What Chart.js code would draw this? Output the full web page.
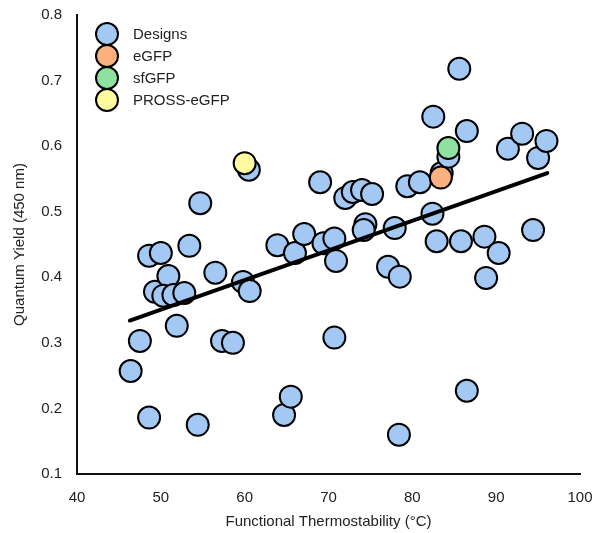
<!DOCTYPE html>
<html>
<head>
<meta charset="utf-8">
<script src="https://cdn.jsdelivr.net/npm/chart.js@4"></script>
<style>
html,body{margin:0;padding:0;background:#fff}
#wrap{width:594px;height:533px}
</style>
</head>
<body>
<div id="wrap"><canvas id="c" width="594" height="533"></canvas></div>
<script>
const designX=[46.4,47.5,48.6,48.6,50.0,49.3,50.9,50.3,51.5,52.8,51.9,53.4,54.4,54.7,56.5,57.3,58.6,59.8,60.6,60.5,
63.9,64.7,65.5,66.0,67.1,69.4,70.7,70.9,70.7,69.0,72.0,72.9,74.0,75.2,74.4,74.2,77.1,77.9,78.5,78.4,
79.4,80.9,82.4,82.9,82.5,83.5,84.3,85.6,85.8,86.5,86.5,88.6,88.8,90.3,91.4,93.1,94.4,95.0,96.0]
const designY=[0.257,0.303,0.186,0.433,0.437,0.378,0.402,0.372,0.373,0.376,0.326,0.448,0.175,0.513,0.407,0.303,0.300,0.393,0.379,0.564,
0.449,0.190,0.218,0.437,0.466,0.452,0.459,0.425,0.308,0.545,0.521,0.530,0.533,0.527,0.481,0.472,0.416,0.475,0.401,0.160,
0.539,0.545,0.497,0.455,0.645,0.559,0.584,0.718,0.455,0.623,0.227,0.462,0.399,0.437,0.596,0.619,0.472,0.582,0.608]
const egfpX=[83.4],egfpY=[0.552]
const sfgfpX=[84.3],sfgfpY=[0.597]
const prossX=[60.0],prossY=[0.574]
const fitX=[46.3,96.1],fitY=[0.334,0.559]

const xTicks=[40,50,60,70,80,90,100]
const yTicks=[0.1,0.2,0.3,0.4,0.5,0.6,0.7,0.8]

const pts=(xs,ys)=>xs.map((x,i)=>({x:x,y:ys[i]}))

Chart.defaults.font.family="'Liberation Sans', Arial, sans-serif"
Chart.defaults.font.size=15
Chart.defaults.color="#222"

function dot(label,data,color,order){
return {type:"scatter",label:label,data:data,order:order,
backgroundColor:color,borderColor:"#000",borderWidth:2,
pointRadius:11,pointHoverRadius:11,pointStyle:"circle"}
}

// legend drawn inside the plot, top-left, one row per marker dataset
const innerLegend={
id:"innerLegend",
afterDatasetsDraw(chart){
const ctx=chart.ctx,a=chart.chartArea
let row=0
chart.data.datasets.forEach(ds=>{
if(ds.type!=="scatter")return
const cx=a.left+30,cy=a.top+19+row*22
ctx.save()
ctx.beginPath()
ctx.arc(cx,cy,11,0,Math.PI*2)
ctx.fillStyle=ds.backgroundColor
ctx.fill()
ctx.lineWidth=2
ctx.strokeStyle="#000"
ctx.stroke()
ctx.fillStyle="#222"
ctx.font="15px 'Liberation Sans', Arial, sans-serif"
ctx.textBaseline="middle"
ctx.fillText(ds.label,a.left+56,cy+1)
ctx.restore()
row++
})
}
}

new Chart(document.getElementById("c"),{
data:{datasets:[
dot("Designs",pts(designX,designY),"#a3c8f3",3),
dot("eGFP",pts(egfpX,egfpY),"#fdb07f",1),
dot("sfGFP",pts(sfgfpX,sfgfpY),"#8fe19f",1),
dot("PROSS-eGFP",pts(prossX,prossY),"#fdfa9f",1),
{type:"line",label:"fit",data:pts(fitX,fitY),order:2,borderColor:"#000",borderWidth:4,
borderCapStyle:"round",pointRadius:0,fill:false}
]},
options:{
responsive:false,animation:false,
layout:{padding:{top:15,right:14,left:0,bottom:0}},
plugins:{tooltip:{enabled:false},legend:{display:false}},
scales:{
x:{type:"linear",min:40,max:100,
afterBuildTicks:s=>{s.ticks=xTicks.map(v=>({value:v}))},
afterFit:s=>{s.height=59;s.paddingRight=0;s.paddingLeft=0},
grid:{display:false},border:{display:true,color:"#111",width:2},
ticks:{padding:7,maxRotation:0,color:"#222"},
title:{display:true,text:"Functional Thermostability (°C)",color:"#222",padding:{top:0,bottom:2}}},
y:{type:"linear",min:0.1,max:0.8,
afterBuildTicks:s=>{s.ticks=yTicks.map(v=>({value:v}))},
afterFit:s=>{s.width=77;s.paddingTop=0;s.paddingBottom=0},
grid:{display:false},border:{display:true,color:"#111",width:2},
ticks:{padding:7,color:"#222",callback:v=>v.toFixed(1)},
title:{display:true,text:"Quantum Yield (450 nm)",color:"#222",padding:{top:11}}}
}
},
plugins:[innerLegend]
})
</script>
</body>
</html>
